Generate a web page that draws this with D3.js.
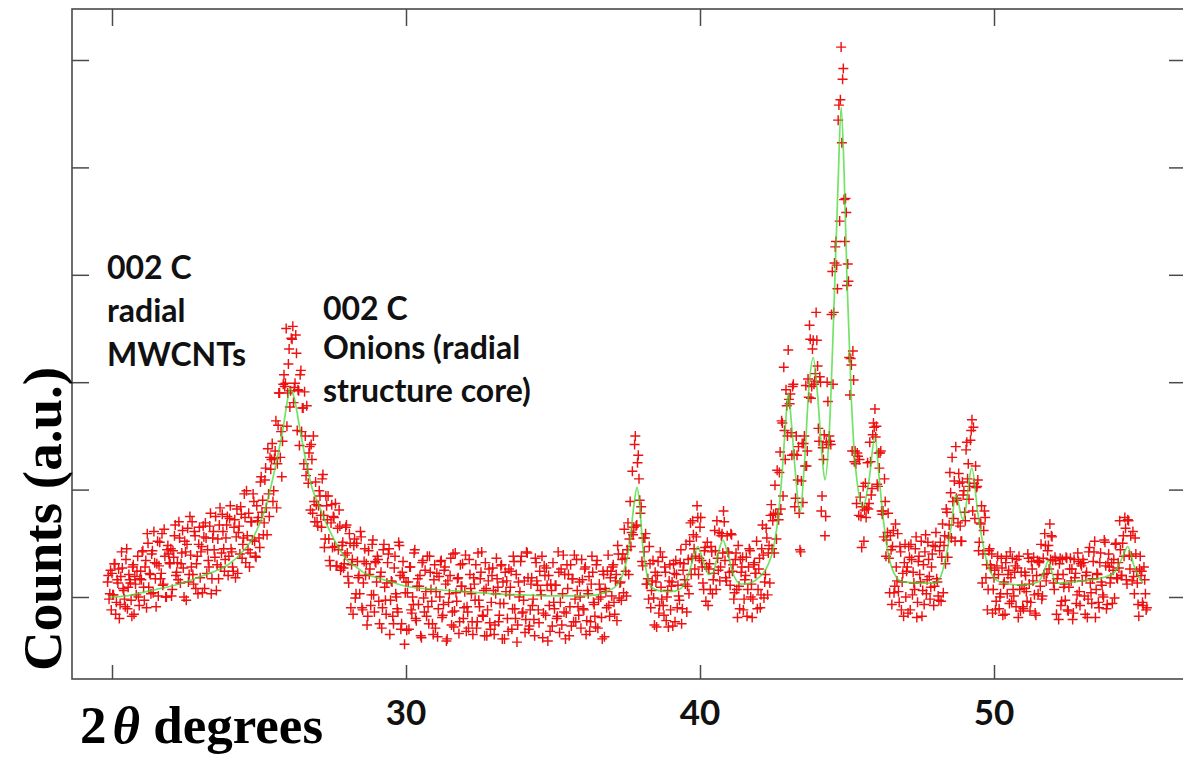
<!DOCTYPE html>
<html>
<head>
<meta charset="utf-8">
<script src="https://cdn.jsdelivr.net/npm/d3@7"></script>
<style>
  html, body { margin: 0; padding: 0; background: #fff; }
  svg { display: block; }
</style>
</head>
<body>
<svg id="chart" width="1183" height="760"></svg>
<script>
// ── Scan data: two interleaved passes, one reading every scanStep degrees ──
const scanStep = 0.05;
const scanAStart = 19.85;
const scanA = [
  14,-2,25,
  22,2,31,-5,13,-20,19,27,6,-9,45,9,16,-3,28,-16,12,24,0,17,
  16,43,-3,34,59,9,21,40,4,32,-9,52,29,17,59,12,38,0,48,32,
  45,7,37,67,23,16,55,31,62,0,42,49,14,75,28,21,61,8,38,49,
  18,47,66,8,55,44,28,78,17,61,37,6,54,67,28,77,45,35,67,20,
  73,45,28,65,18,82,60,40,77,49,96,32,57,78,41,70,96,52,37,71,
  55,107,79,58,109,83,138,75,119,143,99,136,83,160,190,154,145,207,199,159,
  217,177,241,252,195,244,155,192,207,154,176,191,113,119,134,81,128,150,70,86,
  66,99,76,110,76,54,85,94,34,69,46,74,87,29,44,66,28,51,31,65,
  41,13,50,30,-16,54,3,33,20,61,-10,13,45,31,-18,21,-8,49,2,33,
  14,35,-25,23,-10,49,-3,13,40,-35,15,-18,27,3,-11,51,20,-25,33,-44,
  14,4,-30,28,-15,-7,44,-22,17,10,-36,32,-1,25,-18,-9,38,7,-25,16,
  -29,22,-11,0,34,-17,25,12,-39,-5,20,-26,40,-13,4,17,-34,30,10,-20,
  5,-32,-14,35,8,-23,18,-3,-29,41,-9,23,-17,6,32,-36,15,-24,-5,27,
  -35,3,17,-23,-6,30,14,-39,5,-20,26,9,-30,38,-11,21,-26,0,33,-15,
  -3,-33,42,18,-27,12,-8,-21,36,15,-12,24,2,-38,29,-17,11,20,-32,6,
  32,-11,11,-18,23,-5,-26,39,21,-15,8,-36,30,17,-23,-2,35,-9,14,-29,
  16,-12,28,-22,3,-32,12,23,-7,-28,34,-2,7,-19,24,-37,5,24,-8,18,
  1,30,-16,21,48,-1,14,35,4,36,1,69,54,47,117,65,150,67,132,90,
  84,29,42,59,12,-2,31,6,34,-26,14,20,-15,42,-2,-8,28,-22,6,15,
  -12,14,31,-23,21,11,-3,44,-11,31,12,-14,35,52,21,71,45,38,85,21,
  65,34,13,43,-4,51,26,7,42,16,62,7,36,60,28,59,80,34,15,42,
  23,59,24,-2,35,7,48,-11,23,37,-2,20,-18,28,43,12,-2,32,22,-11,
  26,-10,45,39,14,64,2,48,76,45,77,104,54,77,116,82,162,214,128,178,
  230,180,153,196,133,92,132,140,44,108,88,150,197,136,186,240,196,239,201,265,
  215,145,200,94,128,57,144,182,150,142,303,265,326,309,444,350,512,482,370,371,
  290,294,188,216,229,126,124,134,76,93,46,103,81,74,125,87,126,101,162,175,
  159,103,120,136,77,56,89,53,78,4,44,47,4,68,15,5,47,-12,22,32,
  0,28,47,-12,35,23,7,56,-5,38,14,-18,30,42,3,51,19,9,40,-8,
  47,17,1,43,-4,68,48,31,79,56,116,55,89,108,140,90,115,66,52,95,
  79,137,110,91,146,165,158,73,102,109,51,68,13,62,74,30,7,45,27,-15,
  18,-12,29,21,0,36,-17,14,32,3,25,42,-4,7,23,-9,27,38,-13,11,
  -11,23,5,40,12,-5,26,37,-15,20,3,33,49,1,21,48,22,48,68,57,
  34,7,34,17,-21,36,-4,21,12,37,-12,9,36,26,-15,18,-6,41,5,31,
  15,32,-16,23,-2,46,4,17,42,-19,22,-5,32,14,2,53,29,-7,40,13,
  32,25,-1,50,17,27,44,20,57,74,16,72,39,57,15,19,55,24,-7,26,
  20,-5,28,3,-10
];
const scanBStart = 19.875;
const scanB = [
  20,3,-12,
  2,31,-16,16,26,-7,42,8,-2,35,-11,21,13,-18,30,19,2,38,-8,24,
  42,9,28,-10,50,22,3,43,61,17,31,1,51,22,11,63,0,44,40,31,
  1,43,57,20,32,70,13,41,27,52,-3,64,21,39,70,12,57,31,3,65,
  42,4,56,69,22,34,66,3,55,44,75,30,17,83,41,61,24,55,75,38,
  85,42,24,72,56,22,66,84,36,55,74,99,44,28,70,53,89,38,85,74,
  46,112,90,69,120,58,96,130,128,89,129,164,124,190,130,112,198,196,250,190,
  231,192,240,181,199,227,193,141,211,176,124,150,178,106,140,142,78,89,107,70,
  85,94,65,114,46,94,72,54,29,86,75,47,29,64,81,25,48,27,39,67,
  19,59,-10,35,48,-1,50,18,3,56,-12,33,20,-26,43,26,2,53,-14,32,
  38,-4,19,-29,44,9,-16,32,45,-3,14,-25,38,0,-14,48,-30,23,18,4,
  -31,14,28,-12,0,41,-20,10,-7,20,-38,34,-14,5,38,-25,23,-4,-35,30,
  5,-37,19,33,-19,-7,28,-41,15,3,36,-14,-28,41,-4,18,-23,10,31,-10,
  39,-9,-29,21,3,-35,12,30,-23,-3,17,42,-18,-36,8,-12,26,-30,20,6,
  -26,36,9,-17,29,-39,-6,23,15,-32,2,24,-11,33,-20,-42,14,5,38,-14,
  15,-21,41,-30,-12,18,-2,-36,32,11,-24,6,38,-15,20,27,-41,-8,12,-27,
  -5,11,-20,42,-33,26,3,-14,-39,30,21,-9,-27,17,39,-23,6,-17,0,35,
  -11,26,-35,6,19,-23,38,-5,-18,30,-29,12,0,-39,21,8,-10,39,-18,24,
  28,-5,15,-22,40,13,-3,40,63,24,44,21,89,60,58,142,66,125,110,78,
  33,55,55,12,17,47,-10,15,-1,23,-28,33,-8,9,37,-17,23,0,-28,30,
  10,-27,22,34,-10,1,32,-25,25,16,49,10,3,69,36,58,26,56,74,36,
  74,28,7,46,28,-8,31,47,3,22,43,71,25,15,57,41,70,18,57,41,
  11,58,30,4,41,-19,10,35,28,-12,16,37,7,45,0,-19,30,22,52,7,
  36,2,67,-1,21,55,41,13,86,71,41,78,118,72,135,164,94,155,193,150,
  184,189,132,198,84,150,109,78,42,143,143,122,122,203,253,185,231,198,208,239,
  157,205,80,139,151,75,200,142,145,263,198,311,331,287,458,463,423,492,331,358,
  310,223,222,136,202,136,87,131,128,75,84,52,106,83,82,144,95,151,158,149,
  105,134,134,80,80,110,38,60,36,57,-7,62,10,28,59,-5,42,14,-18,49,
  24,-15,37,49,2,13,45,-19,33,21,52,6,-7,58,16,35,-2,28,48,10,
  60,14,-3,51,37,4,57,82,37,67,97,130,73,52,92,69,106,52,107,99,
  71,144,124,103,155,80,106,122,103,43,69,85,40,80,18,-12,43,30,40,7,
  25,-4,38,-11,3,27,12,-16,38,21,-6,18,36,1,29,35,-19,7,23,-9,
  8,20,-4,36,-13,33,15,2,-17,34,32,10,-2,36,59,15,43,26,35,56,
  13,37,-16,21,31,-8,35,9,-3,36,-13,26,15,-21,35,22,2,33,-8,29,
  35,1,20,-19,42,13,-6,33,52,7,21,-10,41,11,0,51,-11,32,28,18,
  -6,35,49,18,32,71,20,50,38,64,12,71,26,38,61,3,40,13,-18,38,
  24,-8,16,-12
];

// ── Fitted profile (green line) ──
const fitTheta = [19.9,20.0,20.5,21.0,21.5,22.0,22.5,23.0,23.5,24.0,24.5,24.8,25.0,25.2,25.4,25.6,25.8,26.0,26.05,26.2,
  26.4,26.6,26.8,27.0,27.2,27.4,27.6,27.8,28.0,28.3,28.6,29.0,29.5,30.0,31.0,32.0,33.0,34.0,35.0,36.0,
  36.5,36.9,37.2,37.4,37.6,37.75,37.86,37.95,38.05,38.2,38.35,38.6,39.0,39.3,39.6,39.8,39.93,40.1,40.3,40.45,
  40.6,40.78,40.95,41.15,41.4,41.7,42.0,42.3,42.5,42.65,42.8,42.92,43.0,43.1,43.25,43.4,43.55,43.7,43.85,44.0,
  44.15,44.25,44.4,44.55,44.7,44.8,44.9,45.0,45.15,45.3,45.55,45.75,45.95,46.1,46.25,46.4,46.6,46.9,47.5,48.0,
  48.2,48.4,48.55,48.7,48.95,49.25,49.45,49.6,49.85,50.2,51.0,51.5,51.7,51.85,52.0,52.15,53.0,53.7,54.1,54.4,
  54.55,54.75,54.9,55.07];
const fitCounts = [0,0,1,4,7,10,14,19,24,31,44,55,67,81,102,127,154,188,194,185,
  155,126,102,88,74,62,51,42,34,28,22,18,14,10,7,5,3,2,1,1,
  2,6,12,23,48,85,102,85,48,20,9,6,5,7,20,39,47,34,21,23,
  39,53,39,20,12,13,18,29,46,72,118,165,190,165,114,78,123,193,223,188,
  132,109,155,264,388,456,397,295,183,118,84,109,149,109,69,41,22,14,13,13,
  20,42,67,95,72,120,78,53,25,14,11,14,23,34,20,13,15,18,23,39,
  47,30,20,13];

const xTicks = [20, 30, 40, 50];
const xTickLabels = ["30", "40", "50"];
const yTicks = [0, 100, 200, 300, 400, 500];
const noteMWCNT = ["002 C", "radial", "MWCNTs"];
const noteOnion = ["002 C", "Onions (radial", "structure core)"];

// ── Layout ──
const frame = { l: 72, r: 1186, t: 9, b: 679 };
const x = d3.scaleLinear().domain([20, 50]).range([112, 994]);
const y = d3.scaleLinear().domain([0, 500]).range([597, 60]);
const AXIS = "#4a4a4a";
const SANS = "Lato, 'Open Sans', sans-serif";
const SERIF = "'Liberation Serif', 'Times New Roman', serif";

const svg = d3.select("#chart");

const toPoints = (arr, start) => arr.map((c, i) => ({ t: +(start + i * scanStep).toFixed(3), c }));
const obs = toPoints(scanA, scanAStart).concat(toPoints(scanB, scanBStart));
const fit = fitTheta.map((t, i) => ({ t, c: fitCounts[i] }));

// Markers
svg.append("g").attr("class", "obs")
  .selectAll("path")
  .data(obs)
  .join("path")
    .attr("transform", d => `translate(${x(d.t)},${y(d.c)})`)
    .attr("d", "M-5,0H5M0,-5V5")
    .attr("stroke", "#ee1111")
    .attr("stroke-width", 1.45)
    .attr("fill", "none");

// Fit
svg.append("path")
  .datum(fit)
  .attr("d", d3.line().x(d => x(d.t)).y(d => y(d.c)).curve(d3.curveMonotoneX))
  .attr("fill", "none")
  .attr("stroke", "#3ad82a")
  .attr("stroke-opacity", 0.72)
  .attr("stroke-width", 1.7);

// ── Frame and ticks ──
function styleAxis(g) {
  g.select(".domain").remove();
  g.selectAll(".tick line").attr("stroke", AXIS).attr("stroke-width", 1.5);
}
svg.append("g").attr("transform", `translate(0,${frame.b})`)
  .call(d3.axisBottom(x).tickValues(xTicks).tickSize(-14).tickFormat(""))
  .call(styleAxis);
svg.append("g").attr("transform", `translate(0,${frame.t})`)
  .call(d3.axisTop(x).tickValues(xTicks).tickSize(-17).tickFormat(""))
  .call(styleAxis);
svg.append("g").attr("transform", `translate(${frame.l},0)`)
  .call(d3.axisLeft(y).tickValues(yTicks).tickSize(-17).tickFormat(""))
  .call(styleAxis);
svg.append("g").attr("transform", `translate(${frame.r},0)`)
  .call(d3.axisRight(y).tickValues(yTicks).tickSize(-17).tickFormat(""))
  .call(styleAxis);

svg.append("rect")
  .attr("x", frame.l).attr("y", frame.t)
  .attr("width", frame.r - frame.l).attr("height", frame.b - frame.t)
  .attr("fill", "none").attr("stroke", AXIS).attr("stroke-width", 1.6);

// Tick labels (20 is replaced by the axis title)
svg.append("g")
  .selectAll("text")
  .data(xTickLabels)
  .join("text")
    .attr("x", d => x(+d))
    .attr("y", 725)
    .attr("text-anchor", "middle")
    .attr("font-family", SANS)
    .attr("font-weight", 700)
    .attr("font-size", 35)
    .attr("fill", "#111")
    .text(d => d);

// ── Axis titles ──
const xt = svg.append("text")
  .attr("x", 80).attr("y", 743)
  .attr("font-family", SERIF)
  .attr("font-weight", 700)
  .attr("font-size", 53)
  .attr("fill", "#000");
xt.append("tspan").text("2");
xt.append("tspan").attr("dx", 6).attr("font-style", "italic").text("θ");
xt.append("tspan").text(" degrees");

svg.append("text")
  .attr("transform", "translate(61,519) rotate(-90)")
  .attr("text-anchor", "middle")
  .attr("font-family", SERIF)
  .attr("font-weight", 700)
  .attr("font-size", 55)
  .attr("fill", "#000")
  .text("Counts (a.u.)");

// ── Peak annotations ──
function note(lines, x0, baselines) {
  svg.append("g")
    .selectAll("text")
    .data(lines)
    .join("text")
      .attr("x", x0)
      .attr("y", (d, i) => baselines[i])
      .attr("font-family", SANS)
      .attr("font-weight", 700)
      .attr("font-size", 32)
      .attr("fill", "#111")
      .text(d => d);
}
note(noteMWCNT, 107, [279, 322, 366]);
note(noteOnion, 323, [320, 359, 402]);
</script>
</body>
</html>
